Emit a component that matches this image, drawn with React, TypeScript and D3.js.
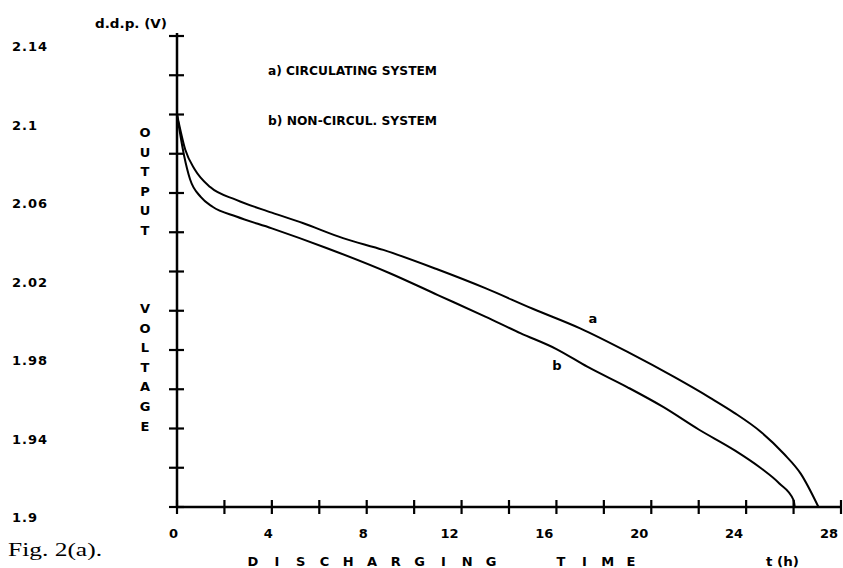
import React from "react";
import * as d3 from "d3";

// curve a) circulating system
const timeA = [0, 0.35, 0.75, 1.4, 2.5, 4, 5.3, 7, 8.7, 11, 13, 15, 17, 19, 21, 22.5, 23.5, 24.6, 25.6, 26.3, 27.05];
const voltA = [2.1, 2.082, 2.072, 2.063, 2.0565, 2.05, 2.0447, 2.037, 2.031, 2.021, 2.0115, 2.001, 1.991, 1.979, 1.966, 1.9555, 1.948, 1.9385, 1.927, 1.917, 1.9];

// curve b) non-circulating system
const timeB = [0, 0.3, 0.55, 1, 1.5, 2.5, 4, 6.3, 9, 11, 13, 14.5, 16, 17.3, 19, 20.5, 22, 23.5, 24.6, 25.4, 26, 26.05];
const voltB = [2.1, 2.079, 2.067, 2.058, 2.053, 2.048, 2.042, 2.032, 2.019, 2.008, 1.997, 1.9885, 1.9805, 1.9715, 1.961, 1.951, 1.9395, 1.929, 1.92, 1.912, 1.9035, 1.9];

const yTickValues = d3.range(0, 13).map((i) => 1.9 + i * 0.02);
const yLabels = ["2.14", "2.1", "2.06", "2.02", "1.98", "1.94", "1.9"];
const xTickValues = d3.range(0, 15).map((i) => i * 2);
const xLabels = ["0", "4", "8", "12", "16", "20", "24", "28"];

const FONT = "'DejaVu Sans', sans-serif";

export default function App() {
  const width = 843;
  const height = 568;

  const x = d3.scaleLinear().domain([0, 28]).range([177, 841]);
  const y = d3.scaleLinear().domain([1.9, 2.14]).range([507, 36]);

  const line = d3
    .line<[number, number]>()
    .x((d) => x(d[0]))
    .y((d) => y(d[1]))
    .curve(d3.curveMonotoneX);

  const pathA = line(timeA.map((t, i) => [t, voltA[i]]) as [number, number][]);
  const pathB = line(timeB.map((t, i) => [t, voltB[i]]) as [number, number][]);

  const x0 = x(0);
  const yBase = y(1.9);

  return (
    <svg
      width={width}
      height={height}
      style={{ position: "absolute", left: 0, top: 0, background: "#fff" }}
      fontFamily={FONT}
      fontWeight="bold"
    >
      <rect width={width} height={height} fill="#fff" />

      {/* axes */}
      <line x1={x0} x2={x0} y1={y(2.14) - 3} y2={yBase} stroke="#000" strokeWidth={2.5} />
      <line x1={x0} x2={x(28)} y1={yBase} y2={yBase} stroke="#000" strokeWidth={2.5} />
      {yTickValues.map((v) => (
        <line key={"yt" + v} x1={x0 - 8} x2={x0 + 7} y1={y(v)} y2={y(v)} stroke="#000" strokeWidth={2.2} />
      ))}
      {xTickValues.map((t) => (
        <line key={"xt" + t} x1={x(t)} x2={x(t)} y1={yBase - 7} y2={yBase + 7} stroke="#000" strokeWidth={2.2} />
      ))}

      {/* y tick labels */}
      {yLabels.map((lab) => (
        <text key={"yl" + lab} x={12} y={y(+lab) + 15} fontSize={13} letterSpacing={1}>
          {lab}
        </text>
      ))}

      {/* x tick labels */}
      {xLabels.map((lab) => (
        <text
          key={"xl" + lab}
          x={x(+lab) + (lab.length > 1 ? -3 : 1)}
          y={538}
          fontSize={13}
          textAnchor="end"
        >
          {lab}
        </text>
      ))}

      {/* curves */}
      <path d={pathA || ""} fill="none" stroke="#000" strokeWidth={2} />
      <path d={pathB || ""} fill="none" stroke="#000" strokeWidth={2} />
      <text x={593} y={323} fontSize={13} textAnchor="middle">a</text>
      <text x={557} y={370} fontSize={13} textAnchor="middle">b</text>

      {/* unit label */}
      <text x={95} y={28} fontSize={13} textLength={72} lengthAdjust="spacingAndGlyphs">d.d.p. (V)</text>

      {/* vertical axis title */}
      {"OUTPUT".split("").map((c, i) => (
        <text key={"o" + i} x={145} y={137 + i * 19.6} fontSize={13} textAnchor="middle">
          {c}
        </text>
      ))}
      {"VOLTAGE".split("").map((c, i) => (
        <text key={"v" + i} x={145} y={313 + i * 19.6} fontSize={13} textAnchor="middle">
          {c}
        </text>
      ))}

      {/* legend */}
      <text x={268} y={75} fontSize={12} textLength={169} lengthAdjust="spacingAndGlyphs">
        a) CIRCULATING SYSTEM
      </text>
      <text x={268} y={125} fontSize={12} textLength={169} lengthAdjust="spacingAndGlyphs">
        b) NON-CIRCUL. SYSTEM
      </text>

      {/* horizontal axis title */}
      {"DISCHARGING".split("").map((c, i) => (
        <text key={"d" + i} x={253 + i * 23.8} y={566} fontSize={13} textAnchor="middle">
          {c}
        </text>
      ))}
      {"TIME".split("").map((c, i) => (
        <text key={"t" + i} x={561 + i * 23.3} y={566} fontSize={13} textAnchor="middle">
          {c}
        </text>
      ))}
      <text x={766} y={566} fontSize={13} textLength={33} lengthAdjust="spacingAndGlyphs">t (h)</text>

      {/* figure caption */}
      <text
        x={8}
        y={556}
        fontSize={19}
        fontWeight="normal"
        fontFamily="'Liberation Serif', 'DejaVu Serif', serif"
        textLength={94}
        lengthAdjust="spacingAndGlyphs"
      >
        Fig. 2(a).
      </text>
    </svg>
  );
}
